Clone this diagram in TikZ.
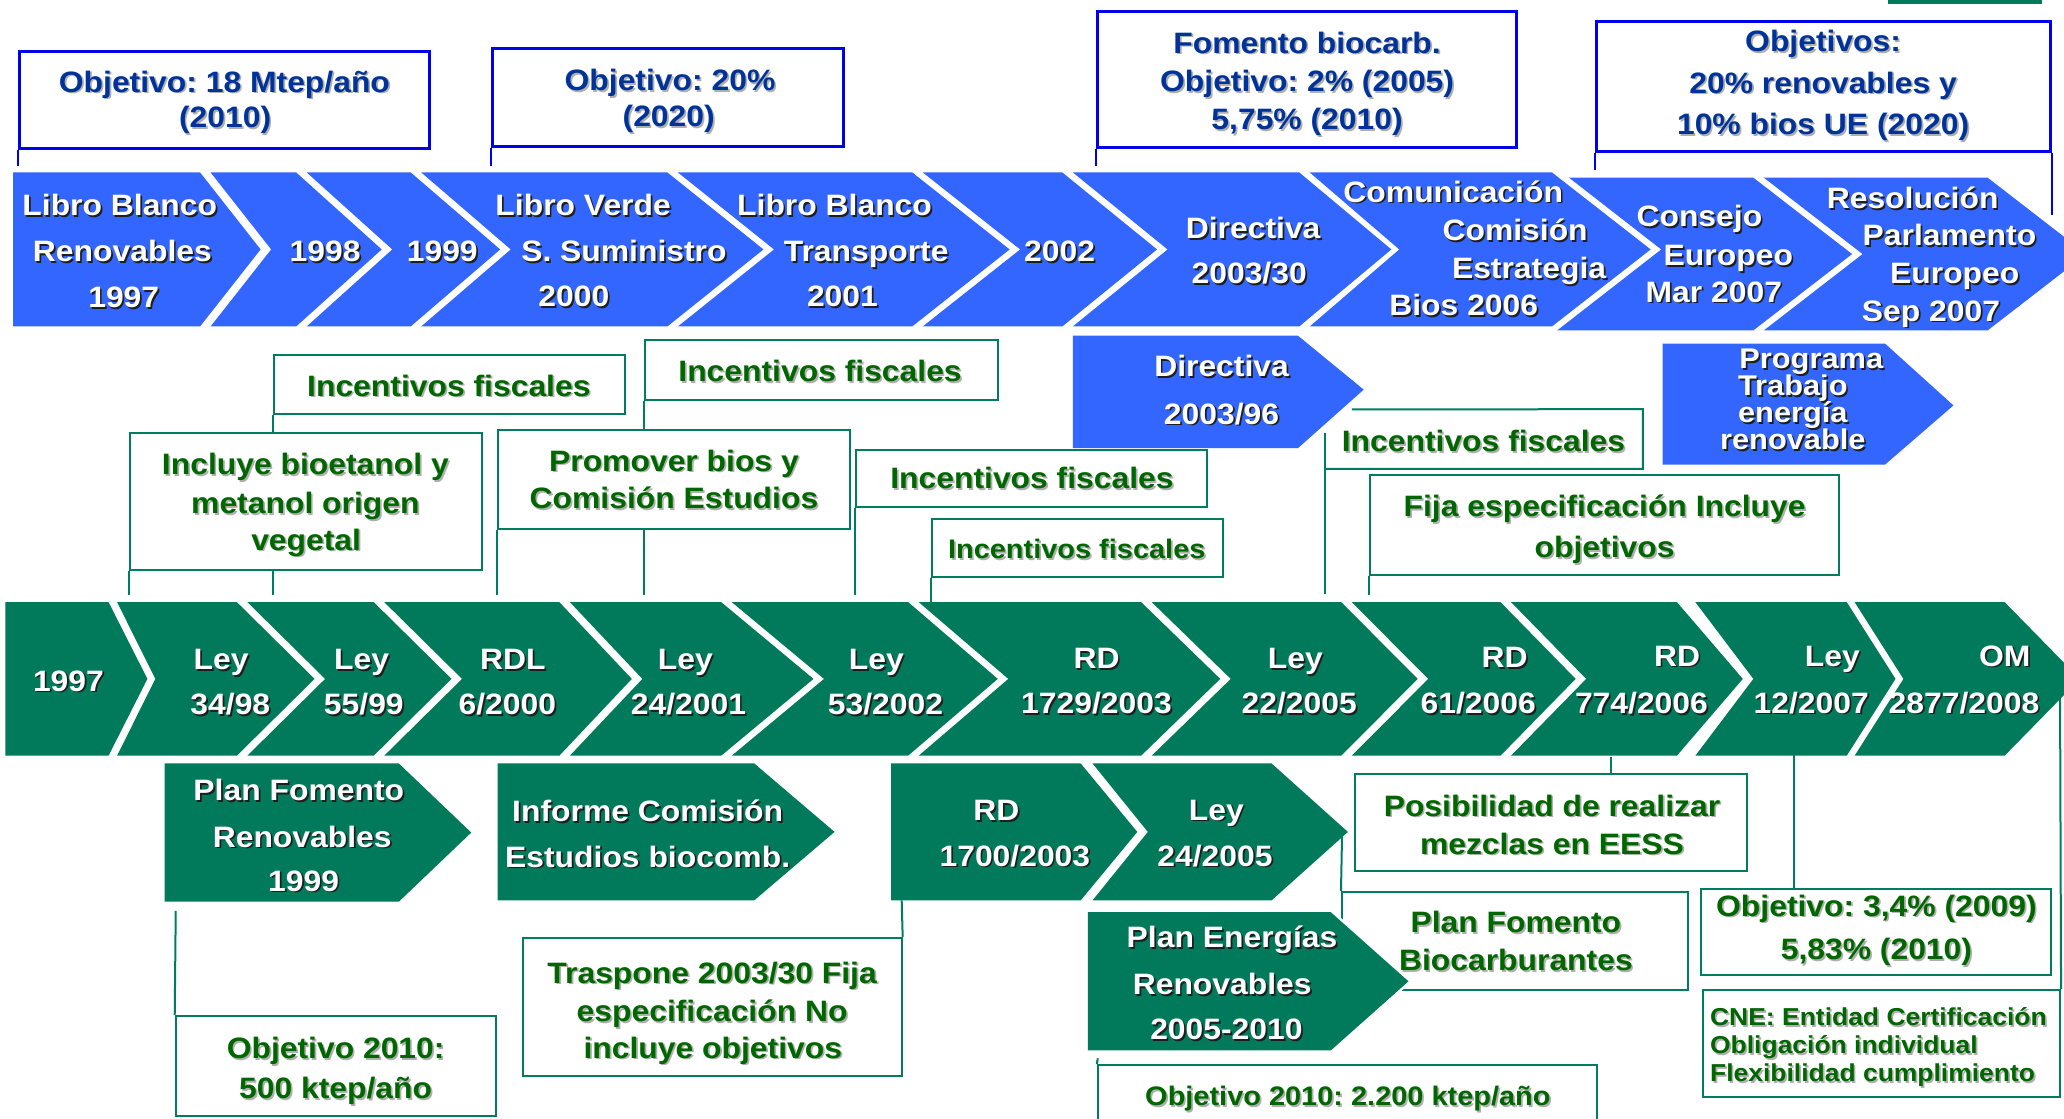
\documentclass[tikz,border=0pt]{standalone}
\usepackage{fontspec}
\setmainfont{Liberation Sans}[FakeStretch=1.08]
\usetikzlibrary{fit}
\frenchspacing

\definecolor{chevblue}{RGB}{51,102,255}
\definecolor{chevgreen}{RGB}{0,122,90}
\definecolor{linegreen}{RGB}{0,125,95}
\definecolor{lineblue}{RGB}{0,0,235}
\definecolor{txtblue}{RGB}{0,51,153}
\definecolor{txtgreen}{RGB}{0,102,0}
\definecolor{darkshadow}{RGB}{30,30,30}
\definecolor{lightshadow}{RGB}{175,175,175}
\colorlet{shc}{darkshadow}

% text with a small drop shadow
\newcommand\sh[1]{\rlap{\raisebox{-1.7pt}[0pt][0pt]{\hspace*{1.7pt}\textcolor{shc}{#1}}}#1}
% chevron: style, left x, notch x, right x, tip x, top y, bottom y, middle y
\newcommand\chev[8]{\fill[#1] (#2,#6) -- (#4,#6) -- (#5,#8) -- (#4,#7) -- (#2,#7) -- (#3,#8) -- cycle;}

\tikzset{
  lbl/.style={inner sep=0pt, anchor=base},
  big/.style={font=\bfseries\fontsize{29.5}{30}\selectfont, yshift=-10.5pt},
  wt/.style={lbl, big, text=white, execute at begin node={\colorlet{shc}{darkshadow}}},
  wtight/.style={lbl, text=white, font=\bfseries\fontsize{28.5}{29}\selectfont, yshift=-10pt,
    execute at begin node={\colorlet{shc}{darkshadow}}},
  bt/.style={lbl, big, text=txtblue, execute at begin node={\colorlet{shc}{lightshadow}}},
  gt/.style={lbl, big, text=txtgreen, execute at begin node={\colorlet{shc}{lightshadow}}},
  gtsmall/.style={lbl, text=txtgreen, font=\bfseries\fontsize{26.8}{27}\selectfont, yshift=-9.6pt,
    execute at begin node={\colorlet{shc}{lightshadow}}},
  gtnote/.style={inner sep=0pt, anchor=base west, text=txtgreen, font=\bfseries\fontsize{24.5}{25}\selectfont,
    yshift=-8.8pt, execute at begin node={\colorlet{shc}{lightshadow}}},
  bchev/.style={fill=chevblue},
  gchev/.style={fill=chevgreen},
  boxbase/.style={inner sep=0pt, fill=white},
  gbox/.style={boxbase, draw=linegreen, line width=2pt},
  bbox/.style={boxbase, draw=lineblue, line width=3pt},
  gline/.style={draw=linegreen, line width=2pt},
  bline/.style={draw=lineblue, line width=2pt},
}

\begin{document}
\begin{tikzpicture}[x=1.3163pt,y=-1.3163pt]
\useasboundingbox (0,0) rectangle (1568,850);
\fill[white] (0,0) rectangle (1568,850);
\clip (0,0) rectangle (1568,850);

% ---------- framed notes ----------
\node[bbox, fit={(15,39) (326,113)}] (a1) {};
\node[bbox, fit={(374,37) (641,111)}] (a2) {};
\node[bbox, fit={(834,9) (1152,112)}] (a3) {};
\node[bbox, fit={(1213,16) (1558,115)}] (a4) {};

\node[gbox, fit={(208,270) (475,314.5)}] (b1) {};
\node[gbox, fit={(489.7,258) (758,304)}] (b2) {};
\node[gbox, fit={(98.5,329) (366,433)}] (b3) {};
\node[gbox, fit={(378.5,327) (646,402)}] (b4) {};
\node[gbox, fit={(650,341.5) (917,385)}] (b5) {};
\node[gbox, fit={(708,394) (929,438)}] (b6) {};
\node[boxbase, fit={(1006.5,311) (1248,356)}] (b7) {};
\node[gbox, fit={(1041,361) (1397,437)}] (b8) {};
\node[gbox, fit={(1029,588) (1327,662)}] (b9) {};
\node[gbox, fit={(1019.5,677.5) (1282,752)}] (b10) {};
\node[gbox, fit={(1292,675) (1558,741)}] (b11) {};
\node[gbox, fit={(1294,752) (1565,833)}] (b12) {};
\node[gbox, fit={(133.5,772) (377,848)}] (b13) {};
\node[gbox, fit={(397,712.6) (685,817.6)}] (b14) {};
\node[gbox, fit={(834,809) (1213,870)}] (b15) {};

% partly hidden note under the Directiva 2003/96 arrow
\draw[gline] (1027,311) -- (b7.north east) -- (b7.south east) -- (b7.south west);
\draw[gline] (b7.south west) ++(0,-27) -- ++(0,122);

% attachment points on the arrows
\coordinate (g10b) at (1223.5,575);
\coordinate (g11b) at (1362.5,573);
\coordinate (g12r) at (1565,530);
\coordinate (p1b) at (133.5,692);
\coordinate (p3b) at (685,684);
\coordinate (p4b) at (1019.5,636);
\coordinate (p5b) at (834,804);

% ---------- connectors ----------
\draw[bline] (a1.south west) -- +(0,12);
\draw[bline] (a2.south west) -- +(0,14);
\draw[bline] (a3.south west) -- +(0,13);
\draw[bline] (a4.south west) -- +(0,13);
\draw[bline] (a4.south east) -- +(0,47);

\draw[gline] (b1.south west) -- (b1.south west |- b3.north);
\draw[gline] (b2.south west) -- (b2.south west |- b4.north);
\draw[gline] (b3.south west) -- +(0,18);
\draw[gline] (b1.south west |- b3.south) -- +(0,18);
\draw[gline] (b4.south west) -- +(0,49);
\draw[gline] (b2.south west |- b4.south) -- +(0,49);
\draw[gline] (b5.south west) -- +(0,66);
\draw[gline] (b6.south west) -- +(0,19);
\draw[gline] (b8.south west) -- +(0,14);

\draw[gline] (g10b) -- (g10b |- b9.north);
\draw[gline] (g11b) -- (g11b |- b11.north);
\draw[gline] (g12r) -- (b12.north east);
\draw[gline] (p1b) -- (b13.north west);
\draw[gline] (p3b) -- (b14.north east);
\draw[gline] (p4b) -- (b10.north west);
\draw[gline] (p5b) -- (b15.north west);

% ---------- upper (EU) arrows ----------
\chev{bchev}{10}{10}{152}{198}{131}{248}{189.5}
\chev{bchev}{160}{206}{225}{290}{131}{248}{189.5}
\chev{bchev}{233}{298}{312}{380}{131}{248}{189.5}
\chev{bchev}{320}{388}{507}{580}{131}{248}{189.5}
\chev{bchev}{515}{588}{693}{767}{131}{248}{189.5}
\chev{bchev}{701}{775}{807}{879}{131}{248}{189.5}
\chev{bchev}{815}{887}{987}{1057}{131}{248}{189.5}
\chev{bchev}{995}{1063}{1179}{1254}{131}{248}{189.5}
\fill[bchev] (1192,135) -- (1332,135) -- (1407,193) -- (1332,251) -- (1183,251) -- (1262,189.5) -- cycle;
\chev{bchev}{1340}{1415}{1510}{1585}{135}{251}{193}

\chev{bchev}{815}{815}{986}{1036}{255}{340.5}{296}
\chev{bchev}{1263}{1263}{1432}{1484}{261}{353}{308}

% ---------- middle (Spain) arrows ----------
\chev{gchev}{4}{4}{82.5}{112}{457.5}{574}{515.75}
\chev{gchev}{89}{118}{180}{239}{457.5}{574}{515.75}
\chev{gchev}{188}{247}{284}{343}{457.5}{574}{515.75}
\chev{gchev}{292}{351}{425}{480}{457.5}{574}{515.75}
\chev{gchev}{433}{488}{548}{618}{457.5}{574}{515.75}
\chev{gchev}{556}{626}{690}{758}{457.5}{574}{515.75}
\chev{gchev}{698}{766}{867}{927}{457.5}{574}{515.75}
\chev{gchev}{875}{935}{1019}{1077}{457.5}{574}{515.75}
\chev{gchev}{1027}{1085}{1140}{1197}{457.5}{574}{515.75}
\chev{gchev}{1148}{1205}{1274}{1324}{457.5}{574}{515.75}
\chev{gchev}{1288}{1332}{1403}{1440}{457.5}{574}{515.75}
\chev{gchev}{1409}{1446}{1523}{1580}{457.5}{574}{515.75}

% ---------- lower arrows ----------
\chev{gchev}{125}{125}{303}{358}{580}{685}{632.5}
\chev{gchev}{378}{378}{573}{634}{580}{684}{632}
\chev{gchev}{677}{677}{821}{864}{580}{684}{632}
\chev{gchev}{830}{872}{966}{1024}{580}{684}{632}
\chev{gchev, preaction={draw=white, line width=5pt}}{826.5}{826.5}{1011}{1070}{693}{798}{745.5}

\fill[chevgreen] (1434,0) rectangle (1551,3);

% ---------- labels: upper arrows ----------
\node[wt] (c1a) at (91,156) {\sh{Libro Blanco}};
\node[wt] (c1b) at (93,191) {\sh{Renovables}};
\node[wt] (c1c) at (94,226) {\sh{1997}};
\node[wt] (c2) at (247,191) {\sh{1998}};
\node[wt] (c3) at (336,191) {\sh{1999}};
\node[wt] (c4a) at (443,156) {\sh{Libro Verde}};
\node[wt] (c4b) at (474,191) {\sh{S. Suministro}};
\node[wt] (c4c) at (436,225) {\sh{2000}};
\node[wt] (c5a) at (634,156) {\sh{Libro Blanco}};
\node[wt] (c5b) at (658,191) {\sh{Transporte}};
\node[wt] (c5c) at (640,225) {\sh{2001}};
\node[wt] (c6) at (805,191) {\sh{2002}};
\node[wt] (c7a) at (952,173.4) {\sh{Directiva}};
\node[wt] (c7b) at (949,207.6) {\sh{2003/30}};
\node[wt] (c8a) at (1104,145.6) {\sh{Comunicación}};
\node[wt] (c8b) at (1151,174.7) {\sh{Comisión}};
\node[wt] (c8c) at (1161.6,203.7) {\sh{Estrategia}};
\node[wt] (c8d) at (1112,231.7) {\sh{Bios 2006}};
\node[wt] (c9a) at (1291,164) {\sh{Consejo}};
\node[wt] (c9b) at (1313,193.7) {\sh{Europeo}};
\node[wt] (c9c) at (1302,221.6) {\sh{Mar 2007}};
\node[wt] (c10a) at (1453,150.6) {\sh{Resolución}};
\node[wt] (c10b) at (1481,178.5) {\sh{Parlamento}};
\node[wt] (c10c) at (1485,207.6) {\sh{Europeo}};
\node[wt] (c10d) at (1467,236) {\sh{Sep 2007}};

\node[wt] (e6a) at (928,278) {\sh{Directiva}};
\node[wt] (e6b) at (928,314.3) {\sh{2003/96}};
% tightly stacked lines, as set in the arrow
\node[wtight] (e7a) at (1376,272.5) {\sh{Programa}};
\node[wtight] (e7b) at (1362,293) {\sh{Trabajo}};
\node[wtight] (e7c) at (1362,313.5) {\sh{energía}};
\node[wtight] (e7d) at (1362,334) {\sh{renovable}};

% ---------- labels: middle arrows ----------
\node[wt] (d1) at (52,517) {\sh{1997}};
\node[wt] (d2a) at (168,500.7) {\sh{Ley}};
\node[wt] (d2b) at (175,535) {\sh{34/98}};
\node[wt] (d3a) at (274.7,500.7) {\sh{Ley}};
\node[wt] (d3b) at (276.4,535) {\sh{55/99}};
\node[wt] (d4a) at (389.6,500.7) {\sh{RDL}};
\node[wt] (d4b) at (385.4,535) {\sh{6/2000}};
\node[wt] (d5a) at (520.6,500.7) {\sh{Ley}};
\node[wt] (d5b) at (523,535) {\sh{24/2001}};
\node[wt] (d6a) at (665.7,500.7) {\sh{Ley}};
\node[wt] (d6b) at (672.7,535) {\sh{53/2002}};
\node[wt] (d7a) at (833,500) {\sh{RD}};
\node[wt] (d7b) at (833,534) {\sh{1729/2003}};
\node[wt] (d8a) at (984,500) {\sh{Ley}};
\node[wt] (d8b) at (987,534) {\sh{22/2005}};
\node[wt] (d9a) at (1143,499) {\sh{RD}};
\node[wt] (d9b) at (1123,534) {\sh{61/2006}};
\node[wt] (d10a) at (1274,498) {\sh{RD}};
\node[wt] (d10b) at (1247,534) {\sh{774/2006}};
\node[wt] (d11a) at (1392,498) {\sh{Ley}};
\node[wt] (d11b) at (1376,533.7) {\sh{12/2007}};
\node[wt] (d12a) at (1523,498) {\sh{OM}};
\node[wt] (d12b) at (1492,533.7) {\sh{2877/2008}};

% ---------- labels: lower arrows ----------
\node[wt] (e1a) at (227,600) {\sh{Plan Fomento}};
\node[wt] (e1b) at (229.6,635.6) {\sh{Renovables}};
\node[wt] (e1c) at (230.6,669) {\sh{1999}};
\node[wt] (e2a) at (492,616) {\sh{Informe Comisión}};
\node[wt] (e2b) at (492,650.8) {\sh{Estudios biocomb.}};
\node[wt] (e3a) at (757,615.4) {\sh{RD}};
\node[wt] (e3b) at (771,650) {\sh{1700/2003}};
\node[wt] (e4a) at (924,615) {\sh{Ley}};
\node[wt] (e4b) at (923,650) {\sh{24/2005}};
\node[wt] (e5a) at (936,712) {\sh{Plan Energías}};
\node[wt] (e5b) at (928.5,747.6) {\sh{Renovables}};
\node[wt] (e5c) at (931.7,781.7) {\sh{2005-2010}};

% ---------- labels: blue notes ----------
\node[bt] (t1a) at (170.5,62) {\sh{Objetivo: 18 Mtep/año}};
\node[bt] (t1b) at (171,89) {\sh{(2010)}};
\node[bt] (t2a) at (509,61) {\sh{Objetivo: 20\%}};
\node[bt] (t2b) at (508,88) {\sh{(2020)}};
\node[bt] (t3a) at (993,32.3) {\sh{Fomento biocarb.}};
\node[bt] (t3b) at (993,61.4) {\sh{Objetivo: 2\% (2005)}};
\node[bt] (t3c) at (993,90.5) {\sh{5,75\% (2010)}};
\node[bt] (t4a) at (1385,31) {\sh{Objetivos:}};
\node[bt] (t4b) at (1385,62.7) {\sh{20\% renovables y}};
\node[bt] (t4c) at (1385,94.3) {\sh{10\% bios UE (2020)}};

% ---------- labels: green notes ----------
\node[gt] (u1) at (341,293) {\sh{Incentivos fiscales}};
\node[gt] (u2) at (623,282) {\sh{Incentivos fiscales}};
\node[gt] (u3a) at (232,352.5) {\sh{Incluye bioetanol y}};
\node[gt] (u3b) at (232,382) {\sh{metanol origen}};
\node[gt] (u3c) at (232.6,410) {\sh{vegetal}};
\node[gt] (u4a) at (512,350) {\sh{Promover bios y}};
\node[gt] (u4b) at (512,378.5) {\sh{Comisión Estudios}};
\node[gt] (u5) at (784,363) {\sh{Incentivos fiscales}};
\node[gtsmall] (u6) at (818,417) {\sh{Incentivos fiscales}};
\node[gt] (u7) at (1127,335) {\sh{Incentivos fiscales}};
\node[gt] (u8a) at (1219,384.4) {\sh{Fija especificación Incluye}};
\node[gt] (u8b) at (1219,415.7) {\sh{objetivos}};
\node[gt] (u9a) at (1179,612) {\sh{Posibilidad de realizar}};
\node[gt] (u9b) at (1179,641) {\sh{mezclas en EESS}};
\node[gt] (u10a) at (1151.6,700.8) {\sh{Plan Fomento}};
\node[gt] (u10b) at (1151.6,729.6) {\sh{Biocarburantes}};
\node[gt] (u11a) at (1425.5,688) {\sh{Objetivo: 3,4\% (2009)}};
\node[gt] (u11b) at (1425.5,721) {\sh{5,83\% (2010)}};
\node[gtnote] (u12a) at (1299,772.4) {\sh{CNE: Entidad Certificación}};
\node[gtnote] (u12b) at (1299,794) {\sh{Obligación individual}};
\node[gtnote] (u12c) at (1299,815) {\sh{Flexibilidad cumplimiento}};
\node[gt] (u13a) at (255,796) {\sh{Objetivo 2010:}};
\node[gt] (u13b) at (255,826.8) {\sh{500 ktep/año}};
\node[gt] (u14a) at (541,738.8) {\sh{Traspone 2003/30 Fija}};
\node[gt] (u14b) at (541,768) {\sh{especificación No}};
\node[gt] (u14c) at (541.5,795.8) {\sh{incluye objetivos}};
\node[gtsmall] (u15) at (1024,832.6) {\sh{Objetivo 2010: 2.200 ktep/año}};
\end{tikzpicture}
\end{document}
